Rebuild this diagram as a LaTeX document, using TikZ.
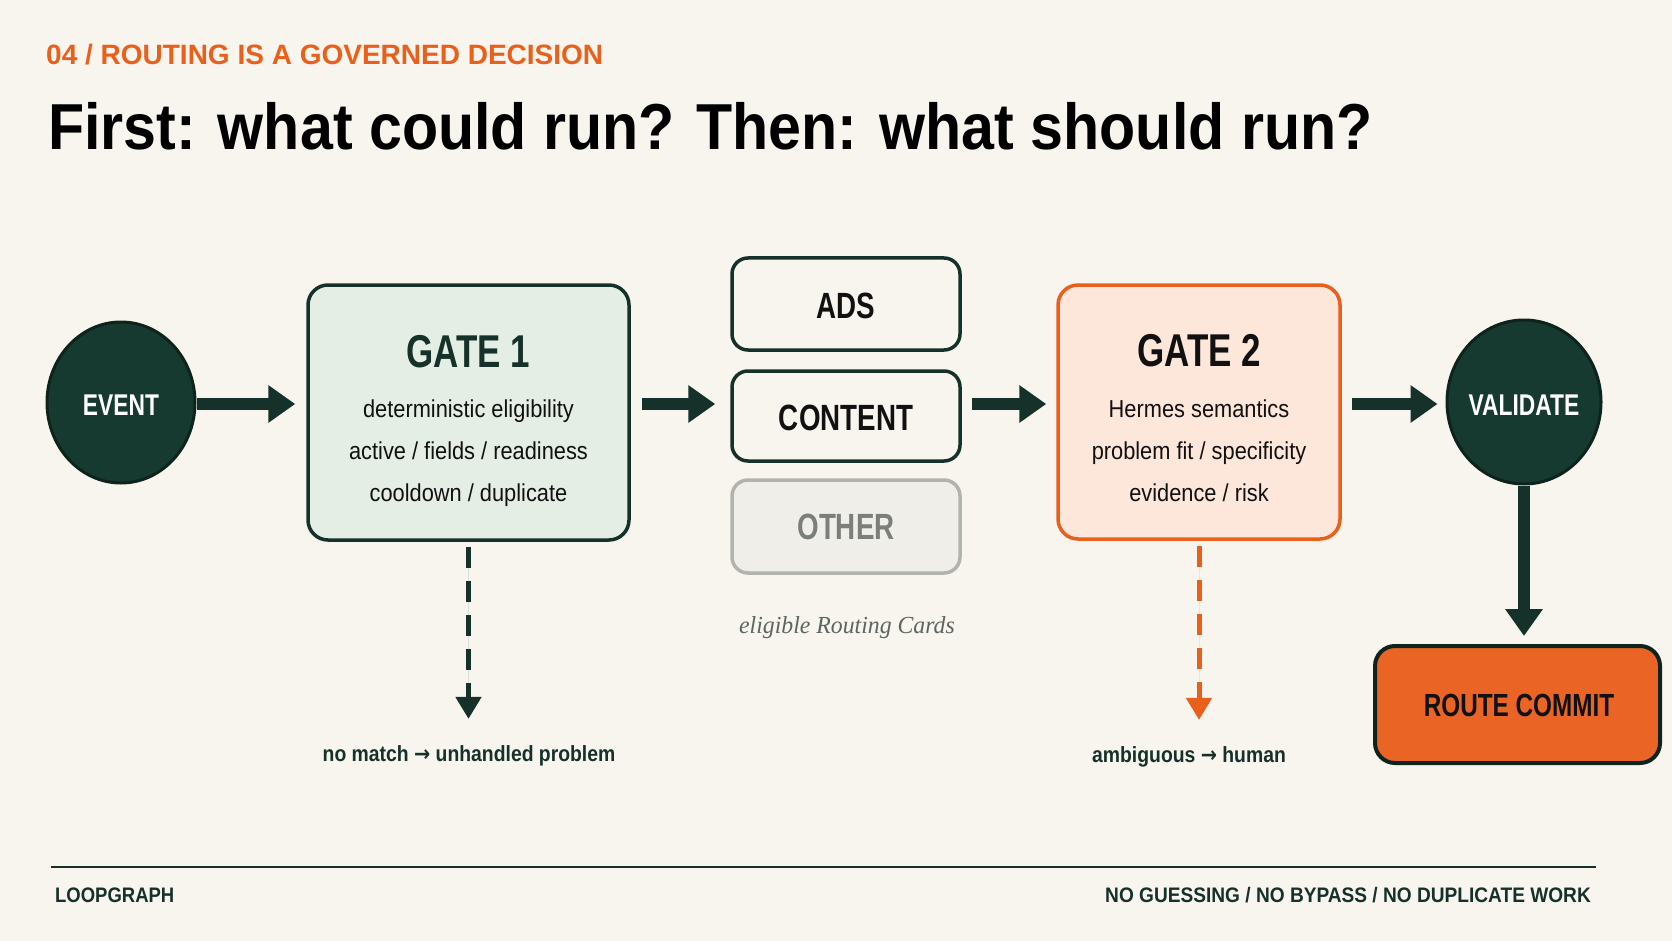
\documentclass[tikz,border=0pt]{standalone}
\usepackage{fontspec}
\setmainfont{Liberation Sans}
\newfontfamily\headf[FakeStretch=0.76]{Liberation Sans}
\newfontfamily\bodyf[FakeStretch=0.89]{Liberation Sans}
\newfontfamily\titlef[FakeStretch=0.91]{Liberation Sans}
\newfontfamily\notef[FakeStretch=0.88]{Liberation Sans}
\newfontfamily\footf[FakeStretch=0.91]{Liberation Sans}
\newfontfamily\arrowf[FakeStretch=0.88]{DejaVu Sans}
\newfontfamily\cardf[FakeStretch=0.97]{Liberation Serif}
\newcommand{\rarr}{{\arrowf\bfseries →}}
\usetikzlibrary{arrows.meta,shapes.geometric}
\definecolor{bgc}{HTML}{F8F5EF}
\definecolor{darkc}{HTML}{16302A}
\definecolor{circf}{HTML}{173A30}
\definecolor{circb}{HTML}{0F231D}
\definecolor{g1fill}{HTML}{E5EEE4}
\definecolor{orangec}{HTML}{E8601C}
\definecolor{g2fill}{HTML}{FDE6DA}
\definecolor{rcfill}{HTML}{EA6525}
\definecolor{othb}{HTML}{B0B3AE}
\definecolor{othf}{HTML}{F0EEE9}
\definecolor{otht}{HTML}{7A7F7B}
\definecolor{notec}{HTML}{5C6560}
\definecolor{inkc}{HTML}{111111}
\begin{document}
\begin{tikzpicture}[x=1pt,y=-1pt,
  txt/.style={inner sep=0pt, anchor=base},
  headtxt/.style={txt, font=\headf\bfseries\fontsize{#1}{#1}\selectfont},
  bodytxt/.style={txt, text=inkc, font=\bodyf\fontsize{24.5}{26}\selectfont},
  gatebox/.style={rectangle, rounded corners=20pt, line width=3.5pt, inner sep=0pt},
  cardbox/.style={rectangle, draw=darkc, fill=bgc, line width=3.5pt, rounded corners=16pt, inner sep=0pt, minimum width=228pt},
  bubble/.style={ellipse, draw=circb, fill=circf, line width=3pt, inner sep=0pt},
  bigarrow/.style={draw=darkc, line width=12pt, -{Triangle[width=36pt,length=27pt]}},
  dasharrow/.style={line width=5pt, dash pattern=on 21pt off 13pt, -{Triangle[width=25pt,length=22pt]}},
  notetxt/.style={txt, text=darkc, font=\notef\bfseries\fontsize{22}{24}\selectfont},
  foottxt/.style={txt, text=darkc, font=\footf\bfseries\fontsize{21}{23}\selectfont}
]
\useasboundingbox (0,0) rectangle (1672,941);
\fill[bgc] (0,0) rectangle (1672,941);

% header
\node[txt, anchor=base west, text=orangec, font=\bfseries\fontsize{28}{30}\selectfont] (kicker) at (46,65) {04 / ROUTING IS A GOVERNED DECISION};
\node[txt, anchor=base west, text=black, font=\titlef\bfseries\fontsize{65}{70}\selectfont] (title) at (48,150) {First: what could run? Then: what should run?};

% nodes
\node[bubble, minimum width=148pt, minimum height=161pt] (event) at (121,402.5) {};
\node[headtxt=30, text=white] (eventt) at (121,415) {EVENT};

\node[gatebox, draw=darkc, fill=g1fill, minimum width=321pt, minimum height=255pt] (gate1) at (468.5,412.5) {};
\node[headtxt=46, text=darkc] (g1t) at (468.5,367) {GATE 1};
\node[bodytxt] (g1a) at (468.5,417) {deterministic eligibility};
\node[bodytxt] (g1b) at (468.5,459) {active / fields / readiness};
\node[bodytxt] (g1c) at (468.5,501) {cooldown / duplicate};

\node[cardbox, minimum height=92pt] (ads) at (846,304) {};
\node[headtxt=36.5, text=inkc] (adst) at (846,318) {ADS};
\node[cardbox, minimum height=90pt] (content) at (846,416) {};
\node[headtxt=36.5, text=inkc] (contentt) at (846,430) {CONTENT};
\node[cardbox, draw=othb, fill=othf, minimum height=93pt] (other) at (846,526.5) {};
\node[headtxt=36.5, text=otht] (othert) at (846,539) {OTHER};
\node[txt, text=notec, font=\cardf\itshape\fontsize{24.5}{27}\selectfont] (cards) at (847,633) {eligible Routing Cards};

\node[gatebox, draw=orangec, fill=g2fill, minimum width=282pt, minimum height=254pt] (gate2) at (1199,412) {};
\node[headtxt=46, text=inkc] (g2t) at (1199.5,366) {GATE 2};
\node[bodytxt] (g2a) at (1199,417) {Hermes semantics};
\node[bodytxt] (g2b) at (1199,459) {problem fit / specificity};
\node[bodytxt] (g2c) at (1199,501) {evidence / risk};

\node[bubble, minimum width=154pt, minimum height=164pt] (validate) at (1524,402) {};
\node[headtxt=30, text=white] (validatet) at (1524,415) {VALIDATE};

\node[gatebox, draw=circb, fill=rcfill, line width=4pt, minimum width=285pt, minimum height=117pt] (commit) at (1517.5,704.5) {};
\node[headtxt=32, text=inkc] (committ) at (1519,716) {ROUTE COMMIT};

\node[notetxt] (nomatch) at (469,761) {no match \rarr{} unhandled problem};
\node[notetxt] (ambig) at (1189,762) {ambiguous \rarr{} human};

% connectors
\coordinate (axis) at (0,404);
\draw[bigarrow, shorten >=11pt] (event.east |- axis) -- (gate1.west |- axis);
\draw[bigarrow, shorten <=11pt, shorten >=15pt] (gate1.east |- axis) -- (content.west |- axis);
\draw[bigarrow, shorten <=10pt, shorten >=10pt] (content.east |- axis) -- (gate2.west |- axis);
\draw[bigarrow, shorten <=10pt, shorten >=8pt] (gate2.east |- axis) -- (validate.west |- axis);
\draw[bigarrow, shorten >=8pt] (validate.south) -- (commit.north -| validate.south);
\draw[dasharrow, draw=darkc, fill=darkc, shorten <=5pt, shorten >=26pt] (gate1.south) -- (nomatch.north -| gate1.south);
\draw[dasharrow, draw=orangec, fill=orangec, shorten <=5pt, shorten >=26pt] (gate2.south) -- (ambig.north -| gate2.south);

% footer
\coordinate (fl) at (51,867);
\coordinate (fr) at (1596,867);
\draw[darkc, line width=2.5pt] (fl) -- (fr);
\node[foottxt, font=\notef\bfseries\fontsize{21}{23}\selectfont, anchor=base west] (brand) at (55,902) {LOOPGRAPH};
\node[foottxt, anchor=base east] (motto) at (1591,902) {NO GUESSING / NO BYPASS / NO DUPLICATE WORK};
\end{tikzpicture}
\end{document}
